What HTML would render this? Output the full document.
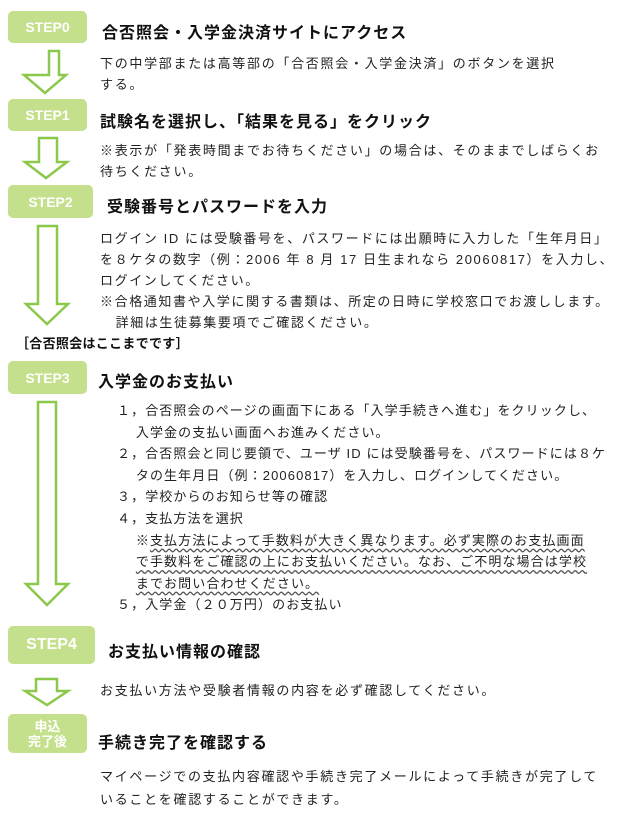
<!DOCTYPE html>
<html><head><meta charset="utf-8"><style>
body{margin:0;width:620px;height:819px;background:#fff;position:relative;overflow:hidden;font-family:"Liberation Sans","Noto Sans CJK JP",sans-serif;color:#222}
.b{position:absolute;left:8px;background:#c5e08c;color:#fff;font-weight:bold;border-radius:5px;display:flex;align-items:center;justify-content:center;font-size:14px}
.h{position:absolute;font-weight:bold;font-size:16px;color:#111;white-space:nowrap;letter-spacing:1px}
.t{position:absolute;left:100px;font-size:13px;letter-spacing:1.7px;white-space:nowrap;line-height:21px}
.w{text-decoration:underline wavy #555;text-underline-offset:3px}
svg{position:absolute;left:0;top:0}
</style></head><body>
<svg width="620" height="819">
<g fill="#fff" stroke="#8cc84b" stroke-width="2.5" stroke-linejoin="miter">
<polygon points="49,51 59,51 59,75 66,75 45,93 24,75 42,75 42,75 49,75"/>
<polygon points="39,138 57,138 57,162 67,162 46,178 25,162 39,162"/>
<polygon points="38,226 57,226 57,304 68,304 47,324 26,304 38,304"/>
<polygon points="38,402 56,402 56,584 68,584 47,605 26,584 38,584"/>
<polygon points="36,679 57,679 57,691 68,691 47,705 25,691 36,691"/>
</g>
</svg>
<div class="b" style="top:11px;width:79px;height:32px">STEP0</div>
<div class="h" style="left:102px;top:19px">合否照会・入学金決済サイトにアクセス</div>
<div class="t" style="top:53px">下の中学部または高等部の「合否照会・入学金決済」のボタンを選択<br>する。</div>
<div class="b" style="top:99px;width:79px;height:32px">STEP1</div>
<div class="h" style="left:100px;top:108px">試験名を選択し、「結果を見る」をクリック</div>
<div class="t" style="top:140px">※表示が「発表時間までお待ちください」の場合は、そのままでしばらくお<br>待ちください。</div>
<div class="b" style="top:185px;width:85px;height:33px">STEP2</div>
<div class="h" style="left:107px;top:193px">受験番号とパスワードを入力</div>
<div class="t" style="top:228px;letter-spacing:1.6px">ログイン ID には受験番号を、パスワードには出願時に入力した「生年月日」<br>を８ケタの数字（例：2006 年 8 月 17 日生まれなら 20060817）を入力し、<br>ログインしてください。<br>※合格通知書や入学に関する書類は、所定の日時に学校窓口でお渡しします。<br>&nbsp;&nbsp;&nbsp;詳細は生徒募集要項でご確認ください。</div>
<div class="t" style="left:16px;top:333px;font-weight:bold;color:#111;letter-spacing:0.3px">［合否照会はここまでです］</div>
<div class="b" style="top:361px;width:79px;height:33px">STEP3</div>
<div class="h" style="left:98px;top:368px">入学金のお支払い</div>
<div class="t" style="left:117px;top:400px;line-height:21.6px;letter-spacing:1.1px">１，合否照会のページの画面下にある「入学手続きへ進む」をクリックし、<br>&nbsp;&nbsp;&nbsp;&nbsp;入学金の支払い画面へお進みください。<br>２，合否照会と同じ要領で、ユーザ ID には受験番号を、パスワードには８ケ<br>&nbsp;&nbsp;&nbsp;&nbsp;タの生年月日（例：20060817）を入力し、ログインしてください。<br>３，学校からのお知らせ等の確認<br>４，支払方法を選択<br>&nbsp;&nbsp;&nbsp;&nbsp;※<span class="w">支払方法によって手数料が大きく異なります。必ず実際のお支払画面</span><br>&nbsp;&nbsp;&nbsp;&nbsp;<span class="w">で手数料をご確認の上にお支払いください。なお、ご不明な場合は学校</span><br>&nbsp;&nbsp;&nbsp;&nbsp;<span class="w">までお問い合わせください。</span><br>５，入学金（２０万円）のお支払い</div>
<div class="b" style="top:626px;width:87px;height:38px;font-size:16px">STEP4</div>
<div class="h" style="left:108px;top:638px">お支払い情報の確認</div>
<div class="t" style="top:680px">お支払い方法や受験者情報の内容を必ず確認してください。</div>
<div class="b" style="top:714px;width:79px;height:39px;font-size:13px;line-height:15px;text-align:center">申込<br>完了後</div>
<div class="h" style="left:98px;top:729px">手続き完了を確認する</div>
<div class="t" style="top:765px;line-height:23px">マイページでの支払内容確認や手続き完了メールによって手続きが完了して<br>いることを確認することができます。</div>
</body></html>
